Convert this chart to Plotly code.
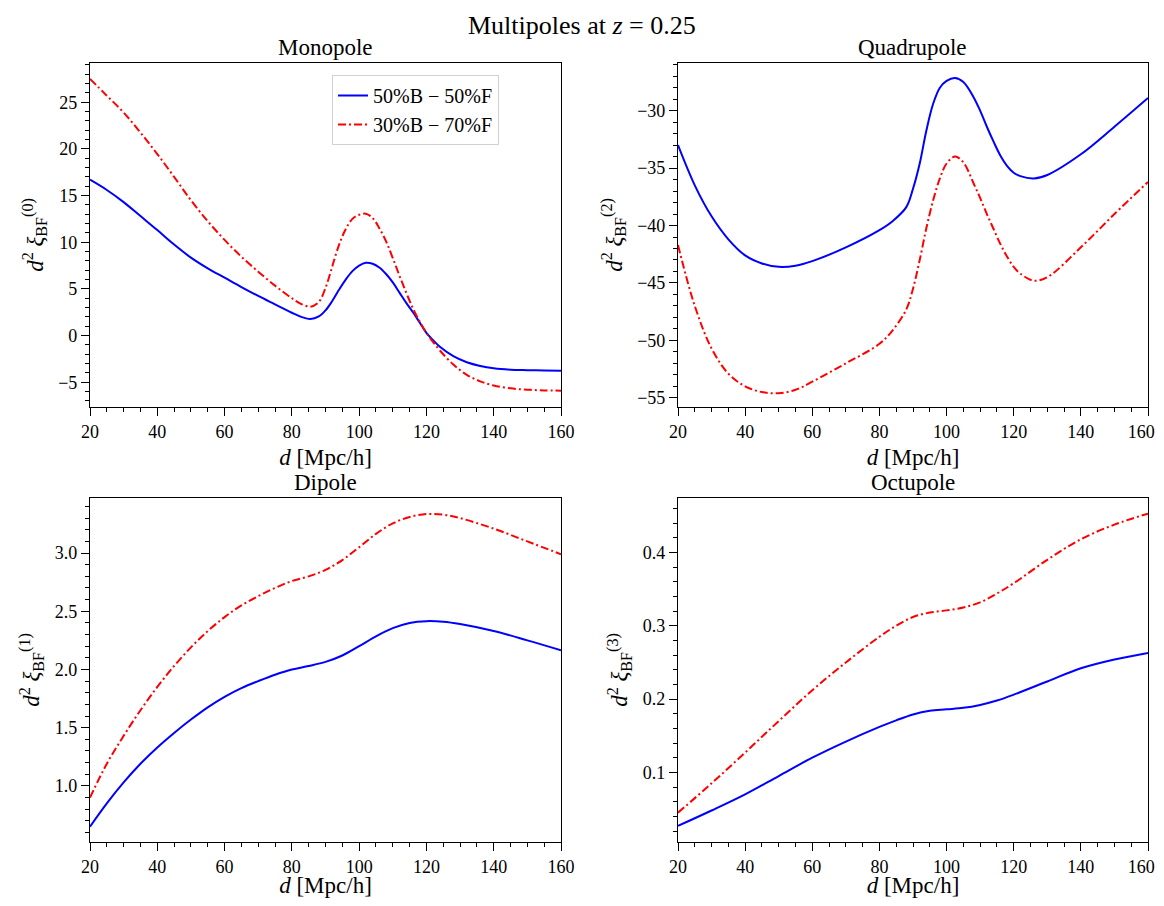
import plotly.graph_objects as go

# ---------------- data ----------------
labels = ["50%B \u2212 50%F", "30%B \u2212 70%F"]
x_tickvals = [20, 40, 60, 80, 100, 120, 140, 160]
x_ticktext_left = ["20", "40", "60", "80", "100", "120", "140", "160"]
x_ticktext_right = ["20", "40", "60", "80", "100", "120", "140", "160\u00a0\u00a0\u00a0"]

d_mono = [20, 25, 30, 35, 40, 45, 50, 55, 60, 65, 70, 75, 80, 83, 85.5, 88, 90, 92, 94, 96,
          98, 100, 102, 104, 106, 108, 110, 112, 114, 116, 118, 120, 122, 124, 128, 132, 136,
          140, 145, 150, 155, 160]
mono_5050 = [16.7, 15.6, 14.3, 12.8, 11.3, 9.75, 8.35, 7.2, 6.2, 5.2, 4.25, 3.35, 2.45, 1.98,
             1.78, 2.05, 2.7, 3.7, 4.9, 6.0, 6.9, 7.5, 7.8, 7.7, 7.3, 6.6, 5.7, 4.6, 3.5, 2.5,
             1.4, 0.3, -0.5, -1.2, -2.2, -2.85, -3.25, -3.5, -3.65, -3.7, -3.74, -3.77]
mono_3070 = [27.5, 25.7, 23.9, 21.75, 19.45, 17.0, 14.5, 12.25, 10.25, 8.45, 6.85, 5.35, 4.0,
             3.35, 3.1, 3.6, 5.1, 7.4, 9.7, 11.4, 12.5, 12.95, 13.05, 12.6, 11.5, 10.1, 8.3,
             6.4, 4.6, 2.9, 1.5, 0.3, -0.7, -1.6, -3.1, -4.2, -4.9, -5.35, -5.65, -5.8, -5.87,
             -5.9]

d_quad = [20, 25, 30, 35, 40, 45, 50, 55, 60, 70, 80, 84, 88, 90, 92, 94, 96, 98, 100, 102.5,
          105, 108, 110, 112, 114, 116, 118, 120, 122, 126, 130, 140, 150, 160]
quad_5050 = [-33.0, -36.5, -39.2, -41.2, -42.6, -43.3, -43.6, -43.5, -43.1, -41.9, -40.4, -39.6,
             -38.4, -36.8, -34.6, -31.7, -29.4, -28.0, -27.4, -27.15, -27.5, -28.8, -30.0,
             -31.4, -32.7, -33.9, -34.8, -35.4, -35.7, -35.9, -35.6, -33.8, -31.4, -28.9]
quad_3070 = [-41.7, -47.0, -50.7, -52.9, -54.0, -54.5, -54.6, -54.3, -53.6, -52.0, -50.3, -49.1,
             -47.3, -45.5, -43.0, -40.2, -37.8, -35.9, -34.6, -34.0, -34.5, -36.3, -37.6, -39.0,
             -40.3, -41.6, -42.7, -43.6, -44.2, -44.8, -44.5, -41.9, -39.0, -36.2]

d_dip = [20, 25, 30, 35, 40, 45, 50, 55, 60, 65, 70, 75, 80, 85, 90, 95, 100, 105, 110, 115,
         120, 125, 130, 140, 150, 160]
dip_5050 = [0.65, 0.85, 1.03, 1.19, 1.33, 1.455, 1.57, 1.675, 1.765, 1.84, 1.90, 1.955, 2.00,
            2.03, 2.065, 2.12, 2.20, 2.285, 2.355, 2.40, 2.415, 2.41, 2.39, 2.33, 2.25, 2.165]
dip_3070 = [0.90, 1.19, 1.43, 1.65, 1.85, 2.03, 2.19, 2.33, 2.45, 2.55, 2.63, 2.70, 2.76, 2.80,
            2.855, 2.94, 3.05, 3.165, 3.255, 3.31, 3.335, 3.33, 3.30, 3.21, 3.10, 2.99]

d_oct = [20, 30, 40, 50, 60, 70, 80, 85, 90, 95, 100, 105, 110, 115, 120, 130, 140, 150, 160]
oct_5050 = [0.027, 0.048, 0.070, 0.095, 0.120, 0.142, 0.162, 0.171, 0.179, 0.184, 0.186, 0.188,
            0.192, 0.198, 0.206, 0.224, 0.242, 0.254, 0.263]
oct_3070 = [0.045, 0.085, 0.127, 0.170, 0.212, 0.250, 0.285, 0.300, 0.312, 0.318, 0.321, 0.325,
            0.332, 0.344, 0.358, 0.390, 0.418, 0.438, 0.453]

panel_titles = ["Monopole", "Quadrupole", "Dipole", "Octupole"]
ell = ["0", "2", "1", "3"]

# ---------------- figure ----------------
FONT = "Liberation Serif, DejaVu Serif, serif"
OFF = 8                      # page body margin
W, H = 1164 - OFF, 906 - 2 * OFF
fig = go.Figure()

panels = [
    (d_mono, mono_5050, mono_3070),
    (d_quad, quad_5050, quad_3070),
    (d_dip, dip_5050, dip_3070),
    (d_oct, oct_5050, oct_3070),
]
# pixel boxes of axes in screen coords (x0, x1, ytop, ybottom)
boxes = [(90, 561, 63, 407), (678, 1148, 63, 407), (90, 561, 498, 842), (678, 1148, 498, 842)]
yranges = [[-7.65, 29.2], [-55.8, -25.85], [0.518, 3.473], [0.005, 0.4743]]
ydticks = [(5, 1, None), (5, 1, None), (0.5, 0.1, ".1f"), (0.1, 0.02, ".1f")]


def px(x):
    return (x - OFF) / W


def py(y):
    return 1 - (y - OFF) / H


for i, (d, a, b) in enumerate(panels):
    xa = "x" if i == 0 else f"x{i+1}"
    ya = "y" if i == 0 else f"y{i+1}"
    fig.add_trace(go.Scatter(x=d, y=a, mode="lines", name=labels[0], showlegend=(i == 0),
                             line=dict(color="#0000ff", width=2, shape="spline", smoothing=1.0),
                             xaxis=xa, yaxis=ya))
    fig.add_trace(go.Scatter(x=d, y=b, mode="lines", name=labels[1], showlegend=(i == 0),
                             line=dict(color="#ff0000", width=2, dash="8px,3px,2px,3px",
                                       shape="spline", smoothing=1.0),
                             xaxis=xa, yaxis=ya))

layout = dict(
    width=W, height=H, margin=dict(l=0, r=0, t=0, b=0, autoexpand=False),
    paper_bgcolor="white", plot_bgcolor="white",
    font=dict(family=FONT, size=16, color="black"),
    showlegend=True,
    legend=dict(x=px(332), y=py(75), xref="paper", yref="paper",
                xanchor="left", yanchor="top", bgcolor="rgba(255,255,255,0.8)",
                bordercolor="#d0d0d0", borderwidth=1, font=dict(size=20, family=FONT),
                tracegroupgap=2),
)

annotations = []
for i, (x0, x1, yt, yb) in enumerate(boxes):
    sx = "" if i == 0 else str(i + 1)
    dom_x = [px(x0), px(x1)]
    dom_y = [py(yb), py(yt)]
    dt, mdt, fmt = ydticks[i]
    layout["xaxis" + sx] = dict(
        domain=dom_x, anchor="y" + sx, range=[20, 160],
        tickmode="array", tickvals=x_tickvals,
        ticktext=(x_ticktext_right if i % 2 == 1 else x_ticktext_left),
        ticks="outside", ticklen=8, tickwidth=1.2, tickcolor="black",
        showline=True, linecolor="black", linewidth=1.2, mirror=True,
        showgrid=False, zeroline=False, automargin=False, ticklabeloverflow="allow",
        tickfont=dict(size=18, family=FONT),
        minor=dict(dtick=5, tick0=20, ticks="outside", ticklen=4, tickcolor="black", showgrid=False),
        title=dict(text="<i>d</i> [Mpc/h]", font=dict(size=23, family=FONT), standoff=8),
    )
    yax = dict(
        domain=dom_y, anchor="x" + sx, range=yranges[i], dtick=dt, tick0=0,
        ticks="outside", ticklen=8, tickwidth=1.2, tickcolor="black",
        showline=True, linecolor="black", linewidth=1.2, mirror=True,
        showgrid=False, zeroline=False, automargin=False, ticklabeloverflow="allow",
        tickfont=dict(size=18, family=FONT),
        minor=dict(dtick=mdt, tick0=0, ticks="outside", ticklen=4, tickcolor="black", showgrid=False),
        title=dict(text=f"<i>d</i><sup>2</sup> <i>\u03be</i><sub>BF</sub><sup>({ell[i]})</sup>",
                   font=dict(size=23, family=FONT), standoff=8),
    )
    if fmt:
        yax["tickformat"] = fmt
    layout["yaxis" + sx] = yax
    annotations.append(dict(text=panel_titles[i], x=px((x0 + x1) / 2), y=py(yt - 1),
                            xref="paper", yref="paper", xanchor="center", yanchor="bottom",
                            showarrow=False, font=dict(size=23, family=FONT)))

annotations.append(dict(text="Multipoles at <i>z</i> = 0.25", x=px(582), y=py(9),
                        xref="paper", yref="paper", xanchor="center", yanchor="top",
                        showarrow=False, font=dict(size=26, family=FONT)))
layout["annotations"] = annotations
fig.update_layout(**layout)

fig.write_html("out.html")
